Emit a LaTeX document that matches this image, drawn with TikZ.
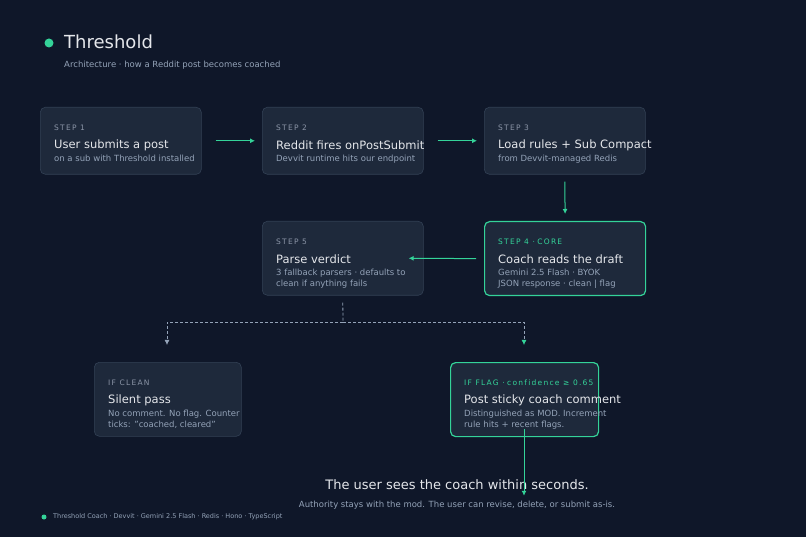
\documentclass[tikz,border=0pt]{standalone}
\usepackage{fontspec}
\setmainfont{DejaVu Sans}
\usetikzlibrary{arrows.meta, positioning}
\definecolor{bgc}{HTML}{0F1729}
\definecolor{boxc}{HTML}{1E293B}
\definecolor{edgec}{HTML}{334155}
\definecolor{mint}{HTML}{34D399}
\definecolor{txt}{HTML}{E5E7EB}
\definecolor{dim}{HTML}{94A3B8}
\definecolor{tag}{HTML}{8B95A7}

\begin{document}
\begin{tikzpicture}[x=1pt, y=-1pt,
  stepbox/.style={draw=edgec, fill=boxc, rounded corners=5pt, line width=0.6pt, anchor=north west, inner sep=0pt},
  corebox/.style={stepbox, draw=mint, line width=1.2pt},
  tagtxt/.style={anchor=west, inner sep=0pt, text=tag, font=\fontsize{7.5}{9}\selectfont},
  headtxt/.style={anchor=west, inner sep=0pt, text=txt, font=\fontsize{11.5}{13}\selectfont},
  subtxt/.style={anchor=north west, inner sep=0pt, text=dim, align=left, font=\fontsize{8.5}{11}\selectfont},
  arrow/.style={-{Latex[width=5pt,length=5pt]}, draw=mint, line width=1pt},
  split/.style={densely dashed, draw=dim, line width=0.8pt}
]
\fill[bgc] (0,0) rectangle (806,537);

% Title
\node[circle, fill=mint, inner sep=0pt, minimum size=9pt] (dot) at (49,43) {};
\node[anchor=west, inner sep=0pt, text=txt, font=\fontsize{18}{20}\selectfont] (title) at (64,42) {Threshold};
\node[anchor=west, inner sep=0pt, text=dim, font=\fontsize{8.5}{10}\selectfont] (subtitle) at (64,65) {Architecture · how a Reddit post becomes coached};

% Steps
\node[stepbox, minimum width=161pt, minimum height=67pt] (s1) at (40,107) {};
\node[stepbox, minimum width=161pt, minimum height=67pt] (s2) at (262,107) {};
\node[stepbox, minimum width=161pt, minimum height=67pt] (s3) at (484,107) {};
\node[corebox, minimum width=161pt, minimum height=74pt] (s4) at (484,221) {};
\node[stepbox, minimum width=161pt, minimum height=74pt] (s5) at (262,221) {};
\node[stepbox, minimum width=147pt, minimum height=74pt] (clean) at (94,362) {};
\node[corebox, minimum width=148pt, minimum height=74pt] (flag) at (450,362) {};

\node[tagtxt] (t1) at (54,128) {S\,T\,E\,P\, 1};
\node[headtxt] (h1) at (54,145) {User submits a post};
\node[subtxt] (d1) at (54,155) {on a sub with Threshold installed};

\node[tagtxt] (t2) at (276,128) {S\,T\,E\,P\, 2};
\node[headtxt] (h2) at (276,145) {Reddit fires onPostSubmit};
\node[subtxt] (d2) at (276,155) {Devvit runtime hits our endpoint};

\node[tagtxt] (t3) at (498,128) {S\,T\,E\,P\, 3};
\node[headtxt] (h3) at (498,145) {Load rules + Sub Compact};
\node[subtxt] (d3) at (498,155) {from Devvit-managed Redis};

\node[tagtxt, text=mint] (t4) at (498,242) {S\,T\,E\,P\, 4\, · C\,O\,R\,E};
\node[headtxt] (h4) at (498,259) {Coach reads the draft};
\node[subtxt] (d4) at (498,269) {Gemini 2.5 Flash · BYOK\\JSON response · clean | flag};

\node[tagtxt] (t5) at (276,242) {S\,T\,E\,P\, 5};
\node[headtxt] (h5) at (276,259) {Parse verdict};
\node[subtxt] (d5) at (276,269) {3 fallback parsers · defaults to\\clean if anything fails};

\node[tagtxt] (tc) at (108,383) {I\,F\, C\,L\,E\,A\,N};
\node[headtxt] (hc) at (108,400) {Silent pass};
\node[subtxt] (dc) at (108,410) {No comment. No flag. Counter\\ticks: "coached, cleared"};

\node[tagtxt, text=mint] (tf) at (464,383) {I\,F\, F\,L\,A\,G\, · c\,o\,n\,f\,i\,d\,e\,n\,c\,e\, ≥\, 0\,.\,6\,5};
\node[headtxt] (hf) at (464,400) {Post sticky coach comment};
\node[subtxt] (df) at (464,410) {Distinguished as MOD. Increment\\rule hits + recent flags.};

% Outcome
\node[inner sep=0pt, text=txt, font=\fontsize{13}{15}\selectfont] (seen) at (457,485) {The user sees the coach within seconds.};
\node[inner sep=0pt, text=dim, font=\fontsize{8.5}{10}\selectfont] (mod) at (457,505) {Authority stays with the mod. The user can revise, delete, or submit as-is.};

% Footer
\node[circle, fill=mint, inner sep=0pt, minimum size=5pt] (fdot) at (44,517) {};
\node[anchor=west, inner sep=0pt, text=dim, font=\fontsize{6.5}{8}\selectfont] (foot) at (53,517) {Threshold Coach · Devvit · Gemini 2.5 Flash · Redis · Hono · TypeScript};

% Arrows
\draw[arrow] ([xshift=14pt]s1.east) -- ([xshift=-7pt]s2.west);
\draw[arrow] ([xshift=14pt]s2.east) -- ([xshift=-7pt]s3.west);
\draw[arrow] ([yshift=-7pt]s3.south) -- ([yshift=7pt]s4.north);
\draw[arrow] ([xshift=-8pt]s4.west) -- ([xshift=-15pt]s5.east);

% Verdict split
\coordinate (fork) at (343,322);
\coordinate (cleanin) at (167,345);
\coordinate (flagin) at (524,345);
\draw[split] ([yshift=-7pt]s5.south) -- (fork);
\draw[split, -{Latex[width=5pt,length=5pt]}] (fork) -| (cleanin);
\draw[split, -{Latex[width=5pt,length=5pt,color=mint]}] (fork) -| (flagin);
\draw[arrow] ([yshift=8pt]flag.south -| flagin) -- ([yshift=-16pt]seen.north -| flagin);
\end{tikzpicture}
\end{document}
